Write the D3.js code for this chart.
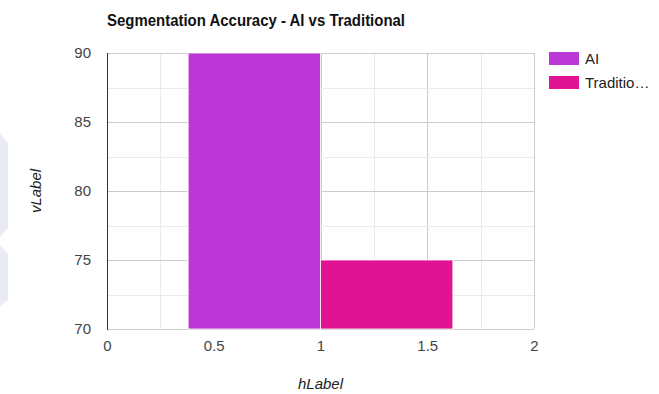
<!DOCTYPE html>
<html>
<head>
<meta charset="utf-8">
<script src="https://cdn.jsdelivr.net/npm/d3@7"></script>
<style>
body { margin: 0; background: #fff; }
text { font-family: Arial, "Liberation Sans", sans-serif; }
</style>
</head>
<body>
<svg width="659" height="394"></svg>
<script>
// data
var series = ['AI', 'Traditional'];
var legendLabels = ['AI', 'Traditio\u2026'];
var xValues = [1];
var aiValues = [90];
var tradValues = [75];
var colors = ['#bc38d6', '#e01493'];
var xTicks = [0, 0.5, 1, 1.5, 2];
var yTicks = [70, 75, 80, 85, 90];

var svg = d3.select('svg');
var plotLeft = 107, plotRight = 534, plotTop = 53, plotBottom = 329;

var x = d3.scaleLinear().domain([0, 2]).range([plotLeft, plotRight]);
var y = d3.scaleLinear().domain([70, 90]).range([plotBottom, plotTop]);

// faint watermark on left edge
svg.append('path')
    .attr('d', 'M0,134 L8,143 L8,228 L0,237 Z M0,245 L8,254 L8,300 L0,306 Z')
    .attr('fill', '#e8ebf0');

// title
svg.append('text')
    .attr('x', 107).attr('y', 26)
    .attr('font-size', 16).attr('font-weight', 'bold')
    .attr('textLength', 298).attr('lengthAdjust', 'spacingAndGlyphs')
    .attr('fill', '#111')
    .text('Segmentation Accuracy - AI vs Traditional');

// gridlines
var gx = d3.range(0, 2.01, 0.25);
var gy = d3.range(70, 90.01, 2.5);
svg.selectAll('.vgrid').data(gx).enter().append('line')
    .attr('class', 'vgrid')
    .attr('x1', function(d) { return Math.round(x(d)) + 0.5; })
    .attr('x2', function(d) { return Math.round(x(d)) + 0.5; })
    .attr('y1', plotTop).attr('y2', plotBottom)
    .attr('stroke', function(d) { return d % 0.5 === 0 ? '#cccccc' : '#ebebeb'; });
svg.selectAll('.hgrid').data(gy).enter().append('line')
    .attr('class', 'hgrid')
    .attr('y1', function(d) { return Math.round(y(d)) + 0.5; })
    .attr('y2', function(d) { return Math.round(y(d)) + 0.5; })
    .attr('x1', plotLeft).attr('x2', plotRight)
    .attr('stroke', function(d) { return d % 5 === 0 ? '#cccccc' : '#ebebeb'; });

// bars: grouped at each x, each bar 0.62 units wide
var barW = 0.62;
var rows = xValues.map(function(v, i) {
    return [
        { x0: v - barW, x1: v, v: aiValues[i], c: colors[0] },
        { x0: v, x1: v + barW, v: tradValues[i], c: colors[1] }
    ];
});
var bars = [].concat.apply([], rows);
svg.selectAll('.bar').data(bars).enter().append('rect')
    .attr('class', 'bar')
    .attr('x', function(d) { return x(d.x0); })
    .attr('width', function(d) { return x(d.x1) - x(d.x0); })
    .attr('y', function(d) { return y(d.v); })
    .attr('height', function(d) { return y(70) - y(d.v); })
    .attr('fill', function(d) { return d.c; })
    .attr('stroke', '#fff').attr('stroke-width', 0.8);

// baseline at x = 0
svg.append('line')
    .attr('x1', Math.round(x(0)) + 0.5).attr('x2', Math.round(x(0)) + 0.5)
    .attr('y1', plotTop).attr('y2', plotBottom + 1)
    .attr('stroke', '#333');

// axes
var xAxis = svg.append('g')
    .attr('transform', 'translate(0,' + plotBottom + ')')
    .call(d3.axisBottom(x).tickValues(xTicks).tickSize(0).tickPadding(11)
        .tickFormat(d3.format('')));
var yAxis = svg.append('g')
    .attr('transform', 'translate(' + plotLeft + ',0)')
    .call(d3.axisLeft(y).tickValues(yTicks).tickSize(0).tickPadding(16));
[xAxis, yAxis].forEach(function(a) {
    a.select('.domain').remove();
    a.selectAll('text')
        .attr('font-size', 15)
        .attr('font-family', 'Arial, "Liberation Sans", sans-serif')
        .attr('fill', '#444');
});

// axis titles
svg.append('text')
    .attr('x', x(1)).attr('y', 389)
    .attr('text-anchor', 'middle')
    .attr('font-size', 15).attr('font-style', 'italic').attr('fill', '#222')
    .text('hLabel');
svg.append('text')
    .attr('transform', 'translate(41,' + ((plotTop + plotBottom) / 2) + ') rotate(-90)')
    .attr('text-anchor', 'middle')
    .attr('font-size', 15).attr('font-style', 'italic').attr('fill', '#222')
    .text('vLabel');

// legend
var legend = svg.selectAll('.legend').data(series).enter().append('g')
    .attr('class', 'legend')
    .attr('transform', function(d, i) { return 'translate(549,' + (52 + i * 24) + ')'; });
legend.append('rect')
    .attr('width', 30).attr('height', 13)
    .attr('fill', function(d, i) { return colors[i]; });
legend.append('text')
    .attr('x', 36).attr('y', 12)
    .attr('font-size', 15).attr('fill', '#222')
    .text(function(d, i) { return legendLabels[i]; });
</script>
</body>
</html>
